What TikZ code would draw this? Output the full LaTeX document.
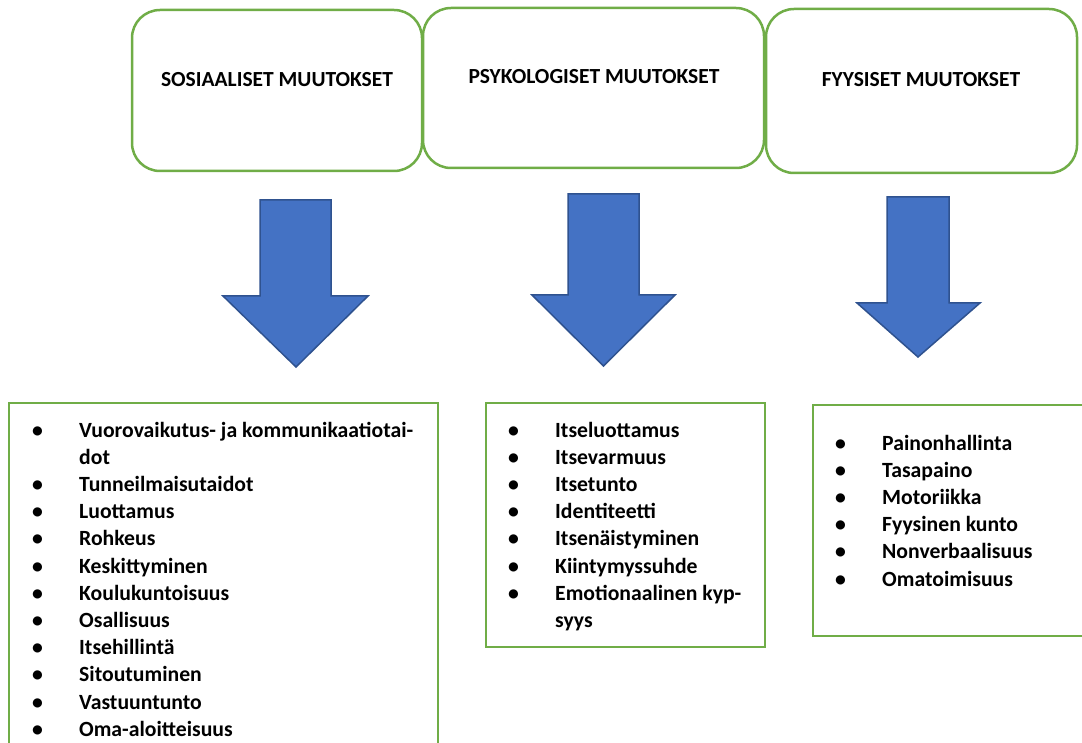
\documentclass[tikz,border=0pt]{standalone}
\usepackage{fontspec}
\setmainfont{Carlito}
\definecolor{boxgreen}{HTML}{70AD47}
\definecolor{arrowfill}{HTML}{4472C4}
\definecolor{arrowedge}{HTML}{2F528F}
\tikzset{
  headbox/.style={draw=boxgreen, line width=2.5pt, rounded corners=28pt, fill=white, inner sep=0pt},
  headlabel/.style={font=\fontsize{21.5}{27}\selectfont\bfseries, inner sep=0pt},
  listbox/.style={draw=boxgreen, line width=2.2pt},
  listtext/.style={font=\fontsize{21.7}{27.2}\selectfont\bfseries, inner sep=0pt, anchor=base west},
  blockarrow/.style={fill=arrowfill, draw=arrowedge, line width=1.5pt, line join=miter}
}
\begin{document}
\begin{tikzpicture}[x=1pt,y=-1pt]
\useasboundingbox (0,0) rectangle (1082,743);
% top boxes
\node[headbox, minimum width=290pt, minimum height=161pt] (sosBox) at (277,90.5) {};
\node[headbox, minimum width=341pt, minimum height=160pt] (psyBox) at (593.5,88) {};
\node[headbox, minimum width=311pt, minimum height=164pt] (fyyBox) at (921.5,91) {};
\node[headlabel] (sosLbl) at (277,80) {SOSIAALISET MUUTOKSET};
\node[headlabel] (psyLbl) at (594,77) {PSYKOLOGISET MUUTOKSET};
\node[headlabel] (fyyLbl) at (921,80) {FYYSISET MUUTOKSET};
% block arrows
\draw[blockarrow] (260,200) -- (331,200) -- (331,296) -- (368,296) -- (296,367) -- (223,296) -- (260,296) -- cycle;
\draw[blockarrow] (568,194) -- (639,194) -- (639,295) -- (675,295) -- (603.5,366) -- (532,295) -- (568,295) -- cycle;
\draw[blockarrow] (887,197) -- (949,197) -- (949,303) -- (980,303) -- (918,357) -- (857,303) -- (887,303) -- cycle;
% list boxes
\draw[listbox] (9,403) rectangle (438,770);
\draw[listbox] (486,403) rectangle (765,647);
\draw[listbox] (813,405) rectangle (1095,636);
% lists
\node[listtext] (listSos) at (32,437) {\begin{tabular}[t]{@{}p{47pt}@{}l@{}}
\textbullet & Vuorovaikutus- ja kommunikaatiotai-\\
 & dot\\
\textbullet & Tunneilmaisutaidot\\
\textbullet & Luottamus\\
\textbullet & Rohkeus\\
\textbullet & Keskittyminen\\
\textbullet & Koulukuntoisuus\\
\textbullet & Osallisuus\\
\textbullet & Itsehillintä\\
\textbullet & Sitoutuminen\\
\textbullet & Vastuuntunto\\
\textbullet & Oma-aloitteisuus
\end{tabular}};
\node[listtext] (listPsy) at (508,437) {\begin{tabular}[t]{@{}p{47pt}@{}l@{}}
\textbullet & Itseluottamus\\
\textbullet & Itsevarmuus\\
\textbullet & Itsetunto\\
\textbullet & Identiteetti\\
\textbullet & Itsenäistyminen\\
\textbullet & Kiintymyssuhde\\
\textbullet & Emotionaalinen kyp-\\
 & syys
\end{tabular}};
\node[listtext] (listFyy) at (835,450) {\begin{tabular}[t]{@{}p{47pt}@{}l@{}}
\textbullet & Painonhallinta\\
\textbullet & Tasapaino\\
\textbullet & Motoriikka\\
\textbullet & Fyysinen kunto\\
\textbullet & Nonverbaalisuus\\
\textbullet & Omatoimisuus
\end{tabular}};
\end{tikzpicture}
\end{document}
